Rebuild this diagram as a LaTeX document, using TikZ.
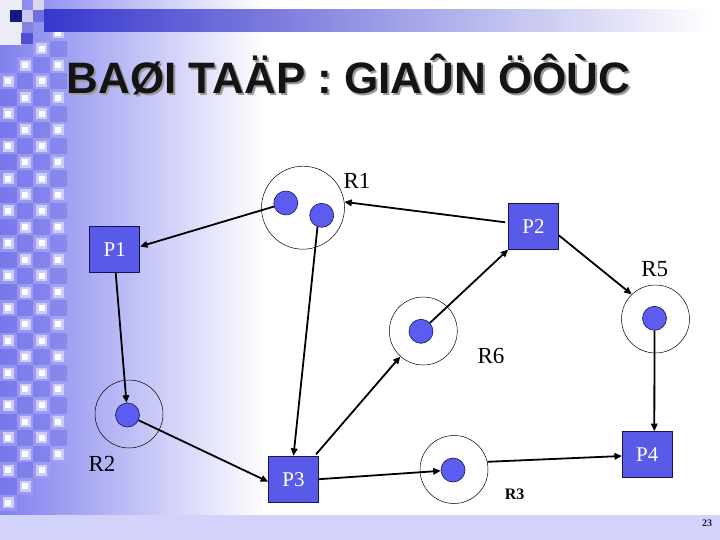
\documentclass[tikz,border=0pt]{standalone}
\usepackage{fontspec}
\setmainfont{Liberation Serif}
\newfontfamily\titlefont{Liberation Sans}
\usetikzlibrary{arrows.meta}
\definecolor{boxblue}{RGB}{90,90,232}
\definecolor{dotblue}{RGB}{92,92,240}
\definecolor{navy}{RGB}{20,20,90}
\definecolor{bgblue}{RGB}{128,128,238}
\definecolor{barblue}{RGB}{55,55,205}
\definecolor{band}{RGB}{210,210,250}
\definecolor{cellblue}{RGB}{110,110,232}
\definecolor{glowedge}{RGB}{205,205,252}
\definecolor{glowcell}{RGB}{165,165,246}
\definecolor{mzA}{RGB}{236,236,246}
\definecolor{mzB}{RGB}{25,25,130}
\definecolor{mzC}{RGB}{200,200,240}
\definecolor{mzD}{RGB}{130,130,225}
\definecolor{mzE}{RGB}{80,80,210}
\definecolor{mzF}{RGB}{215,215,240}
\definecolor{mzG}{RGB}{110,110,220}
\begin{document}
\begin{tikzpicture}[x=1pt,y=-1pt,
  procbox/.style={draw=navy, line width=0.6pt, fill=boxblue, minimum width=50pt, minimum height=46pt, inner sep=0pt, text=white, font=\fontsize{21}{21}\selectfont},
  ring/.style={circle, draw=black, line width=0.5pt, minimum size=68pt, inner sep=0pt},
  bigring/.style={ring, minimum size=83pt},
  dot/.style={circle, draw=navy, line width=0.6pt, fill=dotblue, minimum size=24pt, inner sep=0pt},
  lbl/.style={font=\fontsize{23}{23}\selectfont, inner sep=0pt},
  conn/.style={line width=1.8pt, -{Triangle[length=7.5pt,width=6.5pt]}},
  titletext/.style={anchor=base west, inner sep=0pt, font=\titlefont\bfseries\fontsize{44}{44}\selectfont}
]
\useasboundingbox (0,0) rectangle (720,540);
% background
\fill[white] (0,0) rectangle (720,540);
\shade[left color=bgblue, right color=white] (0,0) rectangle (265,515);
% checker pattern
\foreach \k in {-6,...,23} {
  \foreach \i in {0,...,3} {
    \pgfmathtruncatemacro\ok{((\k >= -3-\i) && (\k <= 23-\i)) ? 1 : 0}
    \pgfmathtruncatemacro\glow{mod(\i+\k+100,2)}
    \pgfmathsetmacro\cx{8.35+16.7*\i}
    \pgfmathsetmacro\cy{130+16.2*\k}
    \ifnum\ok=1
      \ifnum\glow=1
        \fill[glowcell, opacity=0.55] (\cx-8.35,\cy-8.1) rectangle (\cx+8.35,\cy+8.1);
        \fill[glowedge] (\cx-5.5,\cy-5.5) rectangle (\cx+5.5,\cy+5.5);
        \fill[white] (\cx-3,\cy-3) rectangle (\cx+3,\cy+3);
      \else
        \fill[cellblue, opacity=0.45] (\cx-8.35,\cy-8.1) rectangle (\cx+8.35,\cy+8.1);
      \fi
    \fi
  }
}
% top-left mosaic
\fill[mzA] (0,0) rectangle (22,45);
\fill[mzB] (10,10) rectangle (22,22);
\fill[mzC] (22,10) rectangle (33,22);
\fill[mzD] (22,22) rectangle (33,33);
\fill[mzE] (21,33) rectangle (33,44);
\fill[mzF] (33,0) rectangle (44,10);
\fill[mzG] (33,10) rectangle (44,22);
% top bar
\shade[left color=barblue, right color=white] (44,10) rectangle (712,32);
% bottom band
\fill[band] (0,515) rectangle (720,540);
% title
\node[titletext, text=black!40] (titleshadow) at (68.5,95.5) {BAØI TAÄP : GIAÛN ÖÔÙC};
\node[titletext, text=black!92] (title) at (66.5,93.5) {BAØI TAÄP : GIAÛN ÖÔÙC};
% processes
\node[procbox] (P1) at (114.7,249.5) {P1};
\node[procbox] (P2) at (533.5,226.3) {P2};
\node[procbox] (P3) at (293.5,479.2) {P3};
\node[procbox] (P4) at (647.3,454.5) {P4};
% resources
\node[bigring] (R1c) at (303,207.7) {};
\node[ring] (R2c) at (129,414) {};
\node[ring] (R3c) at (454,469.5) {};
\node[ring] (R5c) at (655.5,319) {};
\node[ring] (R6c) at (423.3,331) {};
\node[dot] (d1a) at (285.8,203) {};
\node[dot] (d1b) at (321.7,215.3) {};
\node[dot] (d2) at (127.5,415) {};
\node[dot] (d3) at (453,470) {};
\node[dot] (d5) at (654.5,318.3) {};
\node[dot] (d6) at (421,331.3) {};
% labels
\node[lbl] (l1) at (357,181) {R1};
\node[lbl] (l2) at (102,463.5) {R2};
\node[lbl, font=\bfseries\fontsize{16}{16}\selectfont] (l3) at (514.6,494) {R3};
\node[lbl] (l5) at (654.7,269.5) {R5};
\node[lbl] (l6) at (491,355.5) {R6};
\node[inner sep=0pt, text=navy, font=\bfseries\fontsize{10}{10}\selectfont] (pg) at (707,523.5) {23};
% connectors
\draw[conn] (d1a) -- ([yshift=3pt]P1.east);
\draw[conn] ([xshift=-3pt,yshift=4pt]P2.west) -- (R1c.8);
\draw[conn] (d1b.250) -- (P3.north);
\draw[conn] ([xshift=-2.7pt,yshift=1.7pt]P3.north east) -- (R6c.228);
\draw[conn] (d6) -- (P2.south west);
\draw[conn] ([yshift=-9pt]P2.east) -- (R5c.134);
\draw[conn] (d5.south) -- ([xshift=7pt]P4.north);
\draw[conn] ([xshift=1pt]P1.south) -- (d2);
\draw[conn] (d2) -- ([yshift=-2.5pt]P3.west);
\draw[conn] (P3.east) -- (d3);
\draw[conn] (R3c.13) -- ([yshift=-1.5pt]P4.west);
\end{tikzpicture}
\end{document}
